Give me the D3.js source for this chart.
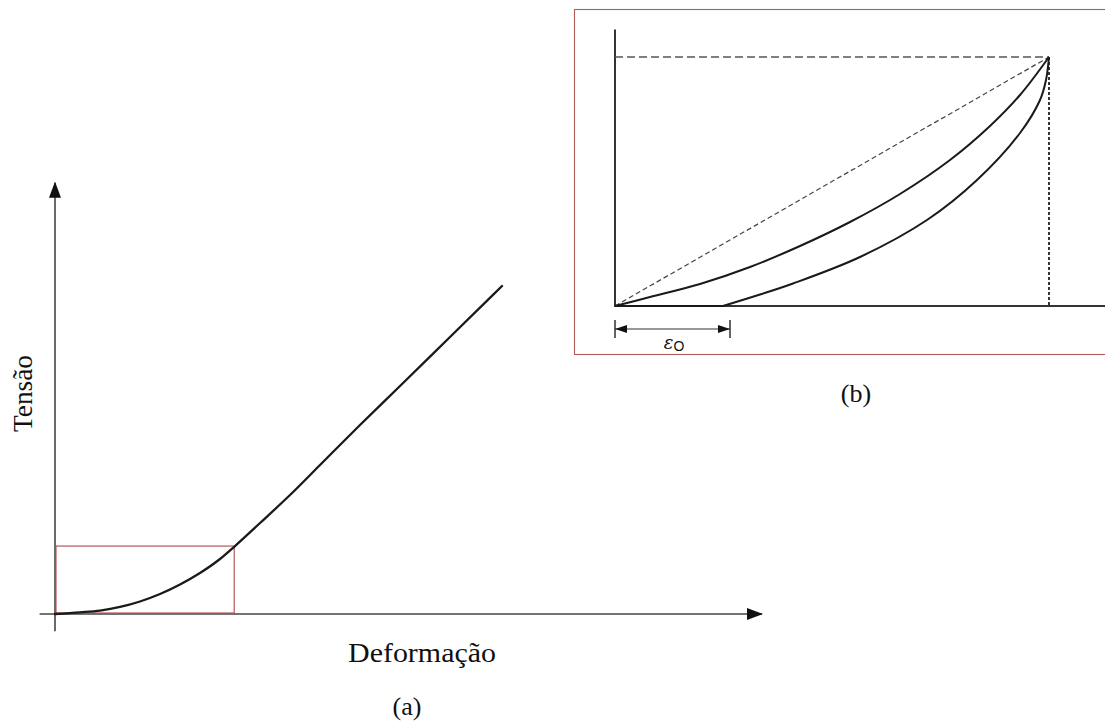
<!DOCTYPE html>
<html>
<head>
<meta charset="utf-8">
<script src="https://cdn.jsdelivr.net/npm/d3@7/dist/d3.min.js"></script>
<style>
  html, body { margin: 0; padding: 0; background: #fff; }
  svg { display: block; }
  text { font-family: "Liberation Serif", "DejaVu Serif", serif; fill: #111; }
</style>
</head>
<body>
<svg id="chart" width="1105" height="722"></svg>
<script>
// ---- Data (a): tension vs. deformation curve (arbitrary units 0..100)
const mainStrain = [0, 3.57, 6.43, 9.29, 12.14, 15.0, 17.86, 20.71, 23.57, 25.71, 29.29, 33.57, 37.86, 43.57, 49.29, 56.43, 63.86];
const mainStress = [0, 0.40, 0.81, 1.63, 2.91, 4.65, 6.86, 9.53, 12.79, 15.81, 21.16, 27.67, 34.65, 43.95, 53.02, 64.42, 76.28];
// zoom box (region shown in (b))
const zoomBoxStrain = [0, 25.6];
const zoomBoxStress = [0, 15.8];

// ---- Data (b): loading / unloading detail (normalised 0..1)
const upperStrain = [0, 0.0806, 0.1959, 0.3111, 0.4263, 0.5415, 0.6567, 0.7719, 0.8641, 0.9332, 1];
const upperStress = [0, 0.0361, 0.0884, 0.1566, 0.2410, 0.3373, 0.4498, 0.5863, 0.7229, 0.8474, 1];
const lowerStrain = [0.2488, 0.3341, 0.4101, 0.5645, 0.7189, 0.8341, 0.9332, 0.9793, 0.9931, 1];
const lowerStress = [0, 0.0462, 0.0904, 0.1968, 0.3454, 0.5060, 0.6948, 0.8273, 0.9076, 1];
const eps0 = 0.265;

const labels = { x: "Deformação", y: "Tensão", a: "(a)", b: "(b)" };

const svg = d3.select("#chart");

// ---------- Panel (a) ----------
const x = d3.scaleLinear().domain([0, 100]).range([55, 755]);
const y = d3.scaleLinear().domain([0, 100]).range([614, 184]);

const defs = svg.append("defs");
defs.append("marker").attr("id", "arrowMain")
  .attr("viewBox", "0 0 16 12").attr("refX", 15).attr("refY", 6)
  .attr("markerWidth", 16).attr("markerHeight", 12).attr("markerUnits", "userSpaceOnUse")
  .attr("orient", "auto")
  .append("path").attr("d", "M0,0 L16,6 L0,12 Z").attr("fill", "#111");
defs.append("marker").attr("id", "arrowDim")
  .attr("viewBox", "0 0 12 8").attr("refX", 12).attr("refY", 4)
  .attr("markerWidth", 12).attr("markerHeight", 8).attr("markerUnits", "userSpaceOnUse")
  .attr("orient", "auto-start-reverse")
  .append("path").attr("d", "M0,0 L12,4 L0,8 Z").attr("fill", "#111");

const gA = svg.append("g");
// axes
gA.append("line")
  .attr("x1", x(-2.2)).attr("y1", y(0)).attr("x2", x(101)).attr("y2", y(0))
  .attr("stroke", "#444").attr("stroke-width", 1.6).attr("marker-end", "url(#arrowMain)");
gA.append("line")
  .attr("x1", x(0)).attr("y1", y(-4)).attr("x2", x(0)).attr("y2", y(100.3))
  .attr("stroke", "#444").attr("stroke-width", 1.6).attr("marker-end", "url(#arrowMain)");

// red zoom box
gA.append("rect")
  .attr("x", x(zoomBoxStrain[0]) + 1).attr("y", y(zoomBoxStress[1]))
  .attr("width", x(zoomBoxStrain[1]) - x(zoomBoxStrain[0]) - 1)
  .attr("height", y(zoomBoxStress[0]) - y(zoomBoxStress[1]) - 1)
  .attr("fill", "none").attr("stroke", "#b04a4a").attr("stroke-width", 1.1);

const lineA = d3.line().x(d => x(d[0])).y(d => y(d[1])).curve(d3.curveMonotoneX);
gA.append("path").datum(d3.zip(mainStrain, mainStress))
  .attr("d", lineA).attr("fill", "none").attr("stroke", "#1a1a1a").attr("stroke-width", 2.3)
  .attr("stroke-linecap", "round");

gA.append("text").attr("x", 422).attr("y", 662).attr("text-anchor", "middle")
  .attr("font-size", 27).attr("textLength", 148).attr("lengthAdjust", "spacingAndGlyphs").text(labels.x);
gA.append("text").attr("transform", "translate(32,393.5) rotate(-90)").attr("text-anchor", "middle")
  .attr("font-size", 27).attr("textLength", 77).attr("lengthAdjust", "spacingAndGlyphs").text(labels.y);
gA.append("text").attr("x", 407).attr("y", 715).attr("text-anchor", "middle")
  .attr("font-size", 26).text(labels.a);

// ---------- Panel (b) ----------
const ix = d3.scaleLinear().domain([0, 1]).range([615, 1049]);
const iy = d3.scaleLinear().domain([0, 1]).range([306, 57]);

const gB = svg.append("g");
gB.append("rect").attr("x", 574.5).attr("y", 9.5).attr("width", 700).attr("height", 345)
  .attr("fill", "none").attr("stroke", "#b35a5a").attr("stroke-width", 1.1);

// axes
gB.append("line").attr("x1", ix(0)).attr("y1", iy(0)).attr("x2", 1110).attr("y2", iy(0))
  .attr("stroke", "#333").attr("stroke-width", 1.8);
gB.append("line").attr("x1", ix(0)).attr("y1", iy(0) + 1).attr("x2", ix(0)).attr("y2", iy(1.11))
  .attr("stroke", "#333").attr("stroke-width", 2);

// dashed reference lines
gB.append("line").attr("x1", ix(0)).attr("y1", iy(1)).attr("x2", ix(1)).attr("y2", iy(1))
  .attr("stroke", "#555").attr("stroke-width", 1.4).attr("stroke-dasharray", "8,4");
gB.append("line").attr("x1", ix(0)).attr("y1", iy(0)).attr("x2", ix(1)).attr("y2", iy(1))
  .attr("stroke", "#444").attr("stroke-width", 1.2).attr("stroke-dasharray", "5,3");
gB.append("line").attr("x1", ix(1)).attr("y1", iy(1)).attr("x2", ix(1)).attr("y2", iy(0))
  .attr("stroke", "#222").attr("stroke-width", 1.8).attr("stroke-dasharray", "3,2");

const lineB = d3.line().x(d => ix(d[0])).y(d => iy(d[1])).curve(d3.curveCatmullRom.alpha(0.5));
gB.append("path").datum(d3.zip(upperStrain, upperStress))
  .attr("d", lineB).attr("fill", "none").attr("stroke", "#1a1a1a").attr("stroke-width", 2);
gB.append("path").datum([[0, 0], [lowerStrain[0], lowerStress[0]]])
  .attr("d", d3.line().x(d => ix(d[0])).y(d => iy(d[1])))
  .attr("fill", "none").attr("stroke", "#1a1a1a").attr("stroke-width", 2);
gB.append("path").datum(d3.zip(lowerStrain, lowerStress))
  .attr("d", lineB).attr("fill", "none").attr("stroke", "#1a1a1a").attr("stroke-width", 2);

// epsilon_0 dimension
[0, eps0].forEach(v => {
  gB.append("line").attr("x1", ix(v)).attr("x2", ix(v)).attr("y1", 320).attr("y2", 338)
    .attr("stroke", "#222").attr("stroke-width", 1.4);
});
gB.append("line").attr("x1", ix(0)).attr("x2", ix(eps0)).attr("y1", 329).attr("y2", 329)
  .attr("stroke", "#333").attr("stroke-width", 1.2)
  .attr("marker-start", "url(#arrowDim)").attr("marker-end", "url(#arrowDim)");
const epsT = gB.append("text").attr("x", 674).attr("y", 349).attr("text-anchor", "middle")
  .attr("font-size", 20);
epsT.append("tspan").attr("font-style", "italic").attr("font-family", "DejaVu Serif").attr("font-size", 18).text("ε");
epsT.append("tspan").attr("font-family", "Liberation Sans").attr("font-size", 14).attr("dy", 2).text("O");

gB.append("text").attr("x", 856).attr("y", 402).attr("text-anchor", "middle")
  .attr("font-size", 26).text(labels.b);
</script>
</body>
</html>
